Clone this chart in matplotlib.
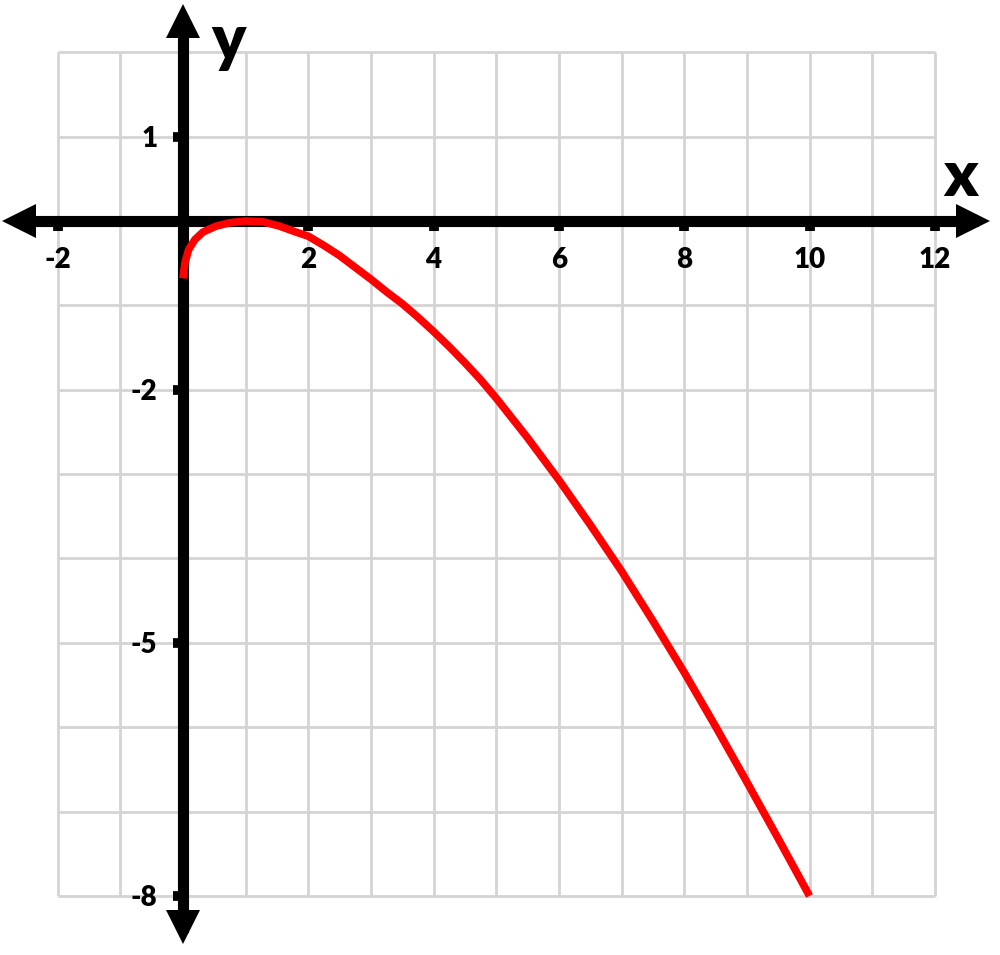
import numpy as np
import matplotlib
matplotlib.use('Agg')
import matplotlib.pyplot as plt

# points
curve_x = [0.0, 0.03, 0.09, 0.19, 0.32, 0.53, 0.75, 1.0, 1.28, 1.54, 1.8, 2.0,
           2.25, 2.5, 2.75, 3.0, 3.25, 3.5, 3.75, 4.0, 4.25, 4.5, 4.75, 5.0,
           5.5, 6.0, 6.5, 7.0, 7.5, 8.0, 8.5, 9.0, 9.5, 10.0]
curve_y = [-0.68, -0.50, -0.34, -0.22, -0.13, -0.06, -0.02, 0.0, -0.01, -0.06,
           -0.13, -0.18, -0.29, -0.41, -0.55, -0.69, -0.84, -0.98, -1.14, -1.31,
           -1.49, -1.68, -1.88, -2.1, -2.57, -3.07, -3.6, -4.15, -4.74, -5.35,
           -5.99, -6.65, -7.32, -8.0]

x_ticks = [-2, 2, 4, 6, 8, 10, 12]
x_tick_labels = ['-2', '2', '4', '6', '8', '10', '12']
y_ticks = [1, -2, -5, -8]
y_tick_labels = ['1', '-2', '-5', '-8']
grid_x = np.arange(-2, 13)
grid_y = np.arange(-8, 3)

FONT = ['Lato', 'DejaVu Sans']

fig = plt.figure(figsize=(10, 9.55), dpi=100)
ax = fig.add_axes([0, 0, 1, 1])
ax.set_xlim(-2.92, 13.04)
ax.set_ylim(-8.70, 2.62)

# light grid, only inside the box
ax.vlines(grid_x, grid_y.min(), grid_y.max(), color='#d4d4d4', lw=2, zorder=1)
ax.hlines(grid_y, grid_x.min(), grid_x.max(), color='#d4d4d4', lw=2, zorder=1)

# axes through the origin
ax.spines['top'].set_visible(False)
ax.spines['right'].set_visible(False)
for s in ['bottom', 'left']:
    ax.spines[s].set_position(('data', 0))
    ax.spines[s].set_linewidth(8)
    ax.spines[s].set_color('black')
ax.spines['bottom'].set_bounds(-2.62, 12.61)
ax.spines['left'].set_bounds(-8.37, 2.37)

# arrow heads
ax.plot([12.61], [0], marker='>', ms=24, color='black', mew=0, clip_on=False, zorder=3)
ax.plot([-2.62], [0], marker='<', ms=24, color='black', mew=0, clip_on=False, zorder=3)
ax.plot([0], [2.37], marker='^', ms=24, color='black', mew=0, clip_on=False, zorder=3)
ax.plot([0], [-8.37], marker='v', ms=24, color='black', mew=0, clip_on=False, zorder=3)

ax.set_xticks(x_ticks)
ax.set_xticklabels(x_tick_labels)
ax.set_yticks(y_ticks)
ax.set_yticklabels(y_tick_labels)
ax.tick_params(axis='both', direction='out', length=7.5, width=7, color='black', pad=11)
for lab in ax.get_xticklabels() + ax.get_yticklabels():
    lab.set_family(FONT)
    lab.set_fontweight('heavy')
    lab.set_fontsize(20)

ax.plot(curve_x, curve_y, color='#ff0000', lw=5.5, solid_capstyle='butt',
        solid_joinstyle='round', zorder=4)

ax.text(12.41, 0.52, 'x', family=FONT, fontweight='heavy', fontsize=46,
        ha='center', va='center')
ax.text(0.72, 2.13, 'y', family=FONT, fontweight='heavy', fontsize=46,
        ha='center', va='center')

plt.savefig('out.png', dpi=100)
plt.close()
